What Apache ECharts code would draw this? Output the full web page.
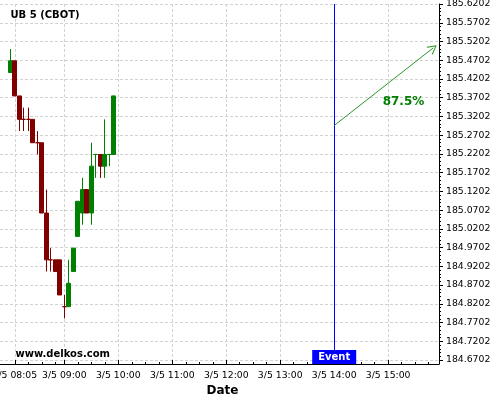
<!DOCTYPE html>
<html><head><meta charset="utf-8">
<script src="https://cdn.jsdelivr.net/npm/echarts@6/dist/echarts.min.js"></script>
<style>html,body{margin:0;padding:0;background:#fff}#c{width:500px;height:400px}</style>
</head><body><div id="c"></div>
<script>
// ---- data ----
const times  = ['08:00','08:05','08:10','08:15','08:20','08:25','08:30','08:35','08:40','08:45','08:50','08:55',
                '09:00','09:05','09:10','09:15','09:20','09:25','09:30','09:35','09:40','09:45','09:50','09:55'];
const opens  = [185.4375,185.46875,185.375,185.3125,185.3125,185.3125,185.25,185.25,185.0625,184.9375,184.9375,184.9375,
                184.8125,184.8125,184.90625,185.0,185.0625,185.125,185.0625,185.21875,185.21875,185.1875,185.21875,185.21875];
const closes = [185.46875,185.375,185.3125,185.3125,185.3125,185.25,185.25,185.0625,184.9375,184.9375,184.90625,184.84375,
                184.8125,184.875,184.96875,185.09375,185.125,185.0625,185.1875,185.21875,185.1875,185.21875,185.21875,185.375];
const lows   = [185.4375,185.375,185.28125,185.28125,185.28125,185.25,185.21875,185.0625,184.90625,184.90625,184.90625,184.84375,
                184.78125,184.8125,184.90625,185.0,185.03125,185.0625,185.03125,185.15625,185.15625,185.15625,185.1875,185.21875];
const highs  = [185.5,185.46875,185.375,185.34375,185.34375,185.3125,185.28125,185.25,185.125,184.96875,184.9375,184.9375,
                184.84375,184.9375,184.96875,185.09375,185.15625,185.125,185.25,185.21875,185.21875,185.3125,185.21875,185.375];

const xTickLabels = ['3/5 08:05','3/5 09:00','3/5 10:00','3/5 11:00','3/5 12:00','3/5 13:00','3/5 14:00','3/5 15:00'];
const yTickLabels = ['184.6702','184.7202','184.7702','184.8202','184.8702','184.9202','184.9702','185.0202','185.0702','185.1202',
                     '185.1702','185.2202','185.2702','185.3202','185.3702','185.4202','185.4702','185.5202','185.5702','185.6202'];
const xRange = ['07:48:30','15:56:30'];
const yRange = [184.6595, 185.6203];

const titleText = 'UB 5 (CBOT)';
const watermark = 'www.delkos.com';
const xName = 'Date';
const eventTime = '14:00';
const eventLabel = 'Event';
const arrowStart = ['14:00', 185.296];
const arrowEnd   = ['15:50', 185.503];
const arrowText  = '87.5%';
const arrowTextAt = ['15:17', 185.358];

// ---- helpers ----
function toMin(s){ const p = s.split(' ').pop().split(':').map(Number); return p[0]*60 + p[1] + (p[2]||0)/60; }
function fmtMin(v){ const h=Math.floor(v/60), m=Math.round(v-h*60); return '3/5 '+String(h).padStart(2,'0')+':'+String(m).padStart(2,'0'); }

const UP='#008000', DOWN='#800000';
const FONT='DejaVu Sans';
const xMajor = xTickLabels.map(toMin);
const xMin = toMin(xRange[0]), xMax = toMin(xRange[1]);
const xMinor = [];
xMajor.forEach((v,i)=>{ const nxt = i+1<xMajor.length ? xMajor[i+1] : xMax; for(let t=v+15;t<nxt-0.5;t+=15) xMinor.push(t); });
const yMajor = yTickLabels.map(Number);
const yMinor = [];
yMajor.forEach((v,i)=>{ if(i+1<yMajor.length) for(let k=1;k<5;k++) yMinor.push(+(v+0.01*k).toFixed(4)); });

let prevDir = 1;
const candleData = times.map((t,i)=>{
  let dir = closes[i]>opens[i] ? 1 : closes[i]<opens[i] ? -1 : prevDir;
  prevDir = dir;
  const c = dir>0 ? UP : DOWN;
  return {value:[toMin(t), opens[i], closes[i], lows[i], highs[i]],
          itemStyle:{color:c,color0:c,borderColor:c,borderColor0:c,borderWidth:1}};
});

const split = {show:true, lineStyle:{color:'#d2d2d2', type:[3,2], width:1}};
const chart = echarts.init(document.getElementById('c'), null, {renderer:'canvas'});
chart.setOption({
  animation:false,
  backgroundColor:'#fff',
  title:[
    {text:titleText, left:10.5, top:10, padding:0, textStyle:{fontFamily:FONT,fontSize:10,fontWeight:'bold',color:'#000'}},
    {text:watermark, left:15.5, top:349, padding:0, textStyle:{fontFamily:FONT,fontSize:10,fontWeight:'bold',color:'#000'}}
  ],
  grid:{left:0, right:61, top:4, bottom:36, containLabel:false, outerBoundsMode:'none'},
  xAxis:[
    {type:'value', min:xMin, max:xMax, position:'bottom',
     name:xName, nameLocation:'middle', nameGap:19,
     nameTextStyle:{fontFamily:FONT,fontSize:12,fontWeight:'bold',color:'#000',padding:[0,0,0,6]},
     axisLine:{show:true,onZero:false,lineStyle:{color:'#000',width:1}},
     axisTick:{show:true,inside:true,length:4,customValues:xMajor,lineStyle:{color:'#000'}},
     axisLabel:{show:true,customValues:xMajor,formatter:fmtMin,margin:7,fontFamily:FONT,fontSize:9.3,color:'#000',hideOverlap:false},
     splitLine:split},
    {type:'value', min:xMin, max:xMax, position:'bottom',
     axisLine:{show:false}, axisLabel:{show:false}, splitLine:{show:false},
     axisTick:{show:true,inside:true,length:2,customValues:xMinor,lineStyle:{color:'#000'}}}
  ],
  yAxis:[
    {type:'value', min:yRange[0], max:yRange[1], position:'right',
     axisLine:{show:true,onZero:false,lineStyle:{color:'#000',width:1}},
     axisTick:{show:true,inside:false,length:4,customValues:yMajor,lineStyle:{color:'#000'}},
     axisLabel:{show:true,customValues:yMajor,formatter:v=>v.toFixed(4),margin:7,fontFamily:FONT,fontSize:9.3,color:'#000',hideOverlap:false},
     splitLine:split},
    {type:'value', min:yRange[0], max:yRange[1], position:'right',
     axisLine:{show:false}, axisLabel:{show:false}, splitLine:{show:false},
     axisTick:{show:true,inside:false,length:2,customValues:yMinor,lineStyle:{color:'#000'}}}
  ],
  series:[{
    type:'candlestick', xAxisIndex:0, yAxisIndex:0, barWidth:4.5,
    encode:{x:0, y:[1,2,3,4]},
    data:candleData,
    markLine:{
      silent:true, animation:false, symbol:['none','none'],
      label:{show:false},
      data:[
        {xAxis:toMin(eventTime), lineStyle:{color:'#0000ff',width:1,type:'solid'}},
        [{coord:[toMin(arrowStart[0]),arrowStart[1]], symbol:'none', lineStyle:{color:'#2a962a',width:1,type:'solid'}},
         {coord:[toMin(arrowEnd[0]),arrowEnd[1]], symbol:'path://M5,0 L10,10 L8.8,10 L5,2.2 L1.2,10 L0,10 Z', symbolSize:[10,9]}]
      ]
    },
    markPoint:{
      silent:true, animation:false,
      data:[
        {coord:[toMin(eventTime), yRange[0]], symbol:'rect', symbolSize:[44,14], symbolOffset:[0,-7],
         itemStyle:{color:'#0000ff'},
         label:{show:true,position:'inside',formatter:eventLabel,color:'#fff',fontFamily:FONT,fontSize:10,fontWeight:'bold'}},
        {coord:[toMin(arrowTextAt[0]), arrowTextAt[1]], symbol:'rect', symbolSize:1, itemStyle:{color:'rgba(0,0,0,0)'},
         label:{show:true,position:'inside',formatter:arrowText,color:'#008000',fontFamily:FONT,fontSize:12,fontWeight:'bold'}}
      ]
    }
  }]
});
</script></body></html>
